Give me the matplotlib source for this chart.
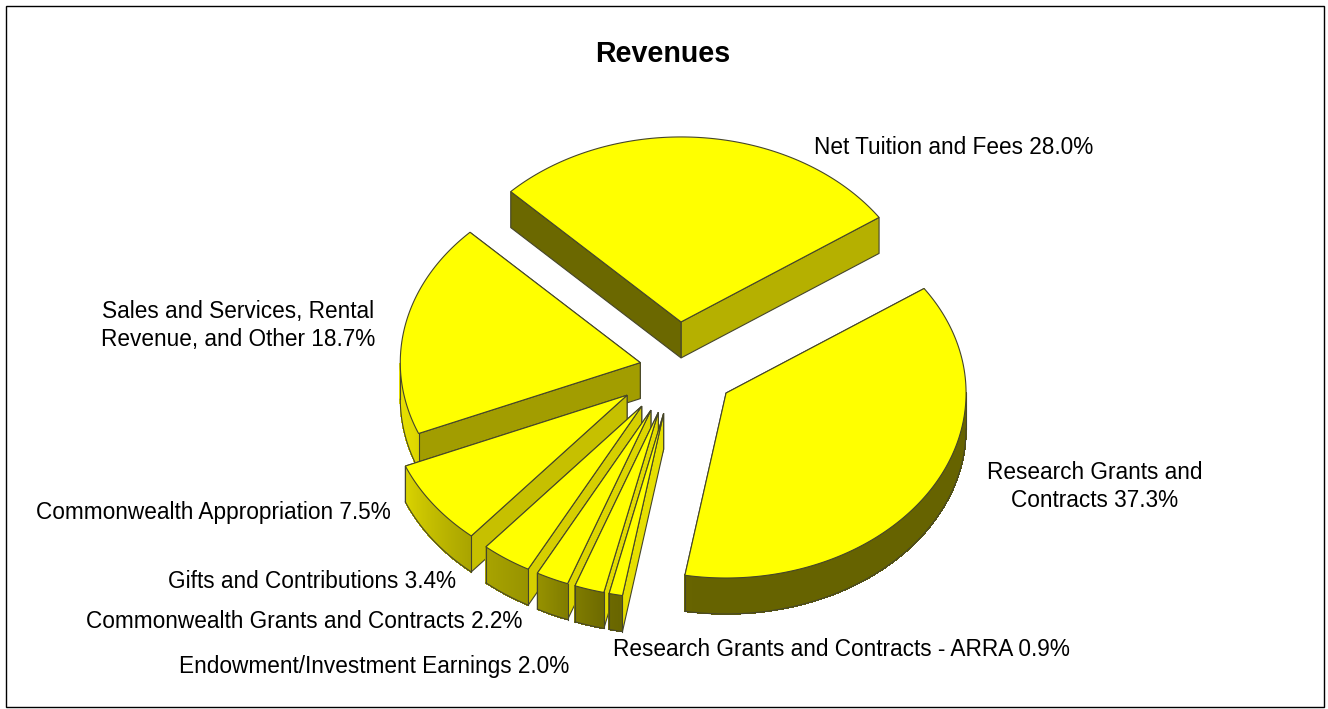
import matplotlib
matplotlib.use("Agg")
import matplotlib.pyplot as plt
from matplotlib.collections import PolyCollection
from matplotlib.patches import Rectangle
import numpy as np

plt.rcParams['font.family'] = ['Liberation Sans', 'DejaVu Sans']

# slices in pie order, counter clockwise from the first one
names = ["Net Tuition and Fees", "Sales and Services, Rental\nRevenue, and Other",
         "Commonwealth Appropriation", "Gifts and Contributions",
         "Commonwealth Grants and Contracts", "Endowment/Investment Earnings",
         "Research Grants and Contracts - ARRA", "Research Grants and\nContracts"]
values = [28.0, 18.7, 7.5, 3.4, 2.2, 2.0, 0.9, 37.3]
explode = [0.25, 0.15, 0.25, 0.25, 0.25, 0.25, 0.25, 0.25]
label_x = [954, 238, 213, 312, 304, 374, 841, 1095]
label_y = [147.5, 325.5, 513, 582, 622, 667, 650, 486.5]

start_angle = 34.4
cx, cy = 675.6, 368
rx, ry = 240, 185
depth = 36
edge = '#45452a'

fig = plt.figure(figsize=(13.28, 7.09), dpi=100)
ax = fig.add_axes([0, 0, 1, 1])
ax.set_xlim(0, 1328)
ax.set_ylim(709, 0)
ax.axis('off')


def shade(b):
    return (b, b * 0.97, 0)


def wall_level(normal):
    return np.interp(normal % 360, [225, 292, 304, 320, 332, 350], [.42, .63, .71, .78, .84, .9])


def rim_level(a):
    return np.interp(a, [180, 200, 230, 241, 250, 258, 262, 360], [.92, .88, .66, .6, .5, .42, .4, .4])


def draw_slice(a0, a1, ex):
    mid = np.radians((a0 + a1) / 2)
    ax0 = cx + ex * rx * np.cos(mid)
    ay0 = cy - ex * ry * np.sin(mid)
    t = np.radians(np.linspace(a0, a1, 200))
    xs = ax0 + rx * np.cos(t)
    ys = ay0 - ry * np.sin(t)

    # flat walls along the two cuts
    for a, x, y, normal in [(a0, xs[0], ys[0], a0 - 90), (a1, xs[-1], ys[-1], a1 + 90)]:
        ax.fill([ax0, x, x, ax0], [ay0, y, y + depth, ay0 + depth],
                fc=shade(wall_level(normal)), ec=edge, lw=0.8, zorder=z)

    # outer rim, only the part turned to the viewer
    deg = np.degrees(t)
    front = ((deg % 360) >= 180)
    quads, cols = [], []
    for i in range(len(t) - 1):
        if front[i] and front[i + 1]:
            quads.append([(xs[i], ys[i]), (xs[i + 1], ys[i + 1]),
                          (xs[i + 1], ys[i + 1] + depth), (xs[i], ys[i] + depth)])
            cols.append(shade(rim_level(deg[i] % 360)))
    if quads:
        ax.add_collection(PolyCollection(quads, facecolors=cols, edgecolors=cols, linewidths=0.5,
                                         antialiaseds=False, zorder=z))
        keep = np.where(front)[0]
        ax.plot(xs[keep], ys[keep] + depth, color=edge, lw=0.8, zorder=z)
        ax.plot([xs[keep[0]]] * 2, [ys[keep[0]], ys[keep[0]] + depth], color=edge, lw=0.8, zorder=z)
        ax.plot([xs[keep[-1]]] * 2, [ys[keep[-1]], ys[keep[-1]] + depth], color=edge, lw=0.8, zorder=z)

    # top face
    ax.fill(np.r_[ax0, xs], np.r_[ay0, ys], fc='#ffff00', ec=edge, lw=0.8, zorder=z + 0.5)


angles = start_angle + np.r_[0, np.cumsum(values)] * 3.6
order = [0, 1, 7, 2, 3, 4, 5, 6]
for z, i in enumerate(order):
    draw_slice(angles[i], angles[i + 1], explode[i])

for name, v, x, y in zip(names, values, label_x, label_y):
    ax.text(x, y, "%s %.1f%%" % (name, v), ha='center', va='center', fontsize=16.3, color='black',
            linespacing=1.25, zorder=20)

ax.text(662.5, 54.5, "Revenues", ha='center', va='center', fontsize=20.6, fontweight='bold', zorder=20)
ax.add_patch(Rectangle((5.5, 5.5), 1318, 701.5, fc='none', ec='black', lw=1, zorder=21))

fig.savefig("out.png", dpi=100, facecolor='white')
